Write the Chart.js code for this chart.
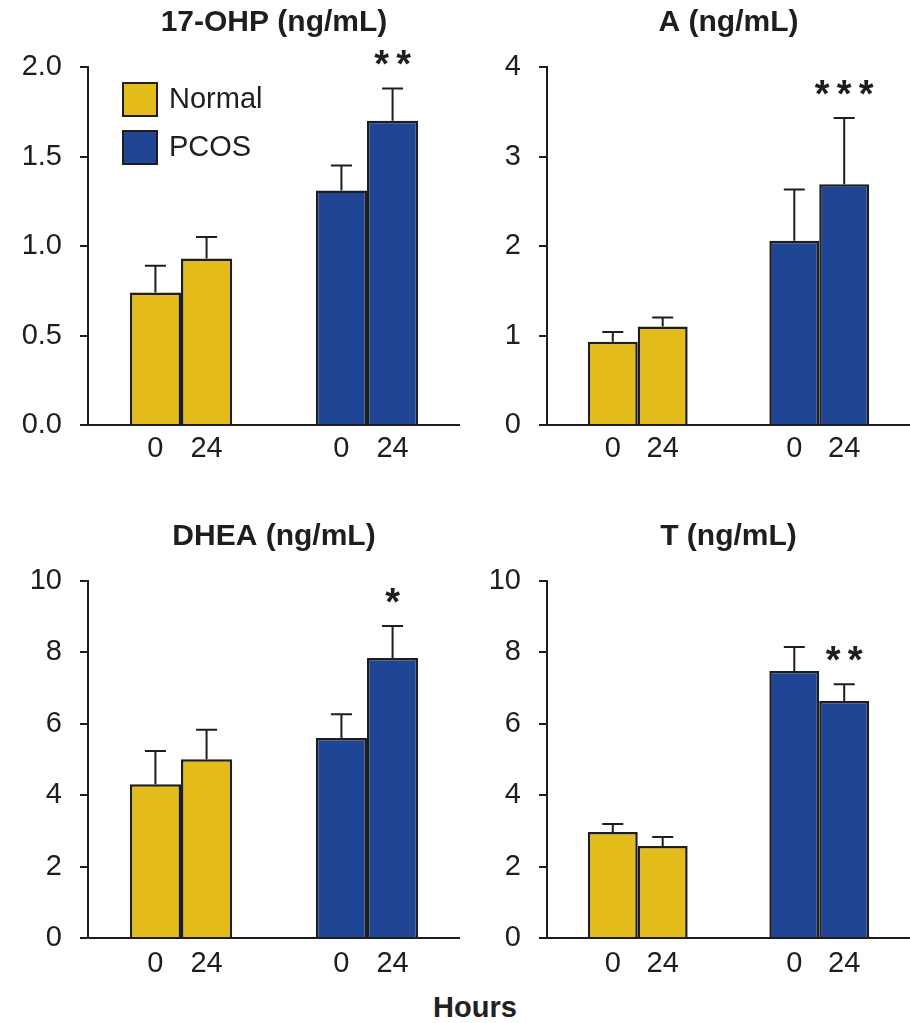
<!DOCTYPE html>
<html>
<head>
<meta charset="utf-8">
<script src="https://cdn.jsdelivr.net/npm/chart.js@4.4.1/dist/chart.umd.min.js"></script>
<style>
  body { margin: 0; background: #fff; }
  #wrap { position: relative; width: 910px; height: 1023px; overflow: hidden; }
  canvas { position: absolute; }
  #hours { position: absolute; left: 375px; width: 200px; top: 990px; text-align: center;
           font: bold 29px "Liberation Sans", Arial, sans-serif; line-height: 34px; color: #222; }
</style>
</head>
<body>
<div id="wrap">
  <canvas id="ohp" width="460" height="470" style="left:0;top:0"></canvas>
  <canvas id="andro" width="450" height="470" style="left:460px;top:0"></canvas>
  <canvas id="dhea" width="460" height="470" style="left:0;top:510px"></canvas>
  <canvas id="testo" width="450" height="470" style="left:460px;top:510px"></canvas>
  <div id="hours">Hours</div>
</div>
<script>
const hours = ['0', '24'];
const groups = ['Normal', 'PCOS'];

// 17-OHP
const ohpNormal = [0.74, 0.93];
const ohpNormalErr = [0.15, 0.12];
const ohpPcos = [1.31, 1.70];
const ohpPcosErr = [0.14, 0.18];
const ohpStars = ['', '**'];
const ohpTicks = [0, 0.5, 1.0, 1.5, 2.0];
const ohpTickLabels = ['0.0', '0.5', '1.0', '1.5', '2.0'];

// A
const aNormal = [0.93, 1.10];
const aNormalErr = [0.11, 0.10];
const aPcos = [2.06, 2.69];
const aPcosErr = [0.57, 0.74];
const aStars = ['', '***'];
const aTicks = [0, 1, 2, 3, 4];
const aTickLabels = ['0', '1', '2', '3', '4'];

// DHEA
const dheaNormal = [4.31, 5.01];
const dheaNormalErr = [0.93, 0.82];
const dheaPcos = [5.60, 7.84];
const dheaPcosErr = [0.67, 0.90];
const dheaStars = ['', '*'];
const tenTicks = [0, 2, 4, 6, 8, 10];
const tenTickLabels = ['0', '2', '4', '6', '8', '10'];

// T
const tNormal = [2.97, 2.58];
const tNormalErr = [0.22, 0.25];
const tPcos = [7.48, 6.64];
const tPcosErr = [0.67, 0.47];
const tStars = ['', '**'];

const YELLOW = '#E3BB1A';
const BLUE = '#1F4594';
const INK = '#1e1e1e';
const FONT = '"Liberation Sans", Arial, sans-serif';

// error bars, hour labels under each bar, stars, legend
const extras = {
  id: 'extras',
  afterDatasetsDraw(chart) {
    const ctx = chart.ctx;
    const y = chart.scales.y;
    const area = chart.chartArea;
    const cfg = chart.options.plugins.extras;
    ctx.save();
    chart.data.datasets.forEach((ds, di) => {
      const meta = chart.getDatasetMeta(di);
      meta.data.forEach((bar, i) => {
        const top = y.getPixelForValue(ds.data[i] + ds.err[i]);
        ctx.strokeStyle = INK;
        ctx.lineWidth = 2;
        ctx.beginPath();
        ctx.moveTo(bar.x, bar.y);
        ctx.lineTo(bar.x, top);
        ctx.moveTo(bar.x - 10.5, top);
        ctx.lineTo(bar.x + 10.5, top);
        ctx.stroke();

        ctx.fillStyle = INK;
        ctx.font = '29px ' + FONT;
        ctx.textAlign = 'center';
        ctx.textBaseline = 'middle';
        ctx.fillText(hours[di], bar.x, area.bottom + cfg.labelGap);

        const s = ds.stars[i];
        if (s) {
          ctx.font = 'bold 38px ' + FONT;
          ctx.textBaseline = 'alphabetic';
          for (let k = 0; k < s.length; k++) {
            const sx = bar.x + (k - (s.length - 1) / 2) * 22;
            ctx.fillText('*', sx, top - 34 + 23);
          }
        }
      });
    });
    if (cfg.legend) {
      groups.forEach((g, gi) => {
        const ly = area.top + 16 + gi * 48;
        ctx.fillStyle = gi === 0 ? YELLOW : BLUE;
        ctx.fillRect(123, ly, 34, 33);
        ctx.strokeStyle = INK;
        ctx.lineWidth = 2;
        ctx.strokeRect(123, ly, 34, 33);
        ctx.fillStyle = INK;
        ctx.font = '29px ' + FONT;
        ctx.textAlign = 'left';
        ctx.textBaseline = 'middle';
        ctx.fillText(g, 169, ly + 17);
      });
    }
    ctx.restore();
  }
};

function makePanel(id, title, normal, normalErr, pcos, pcosErr, stars, ticks, tickLabels, opt) {
  const datasets = hours.map((h, hi) => ({
    label: h + ' h',
    data: [normal[hi], pcos[hi]],
    err: [normalErr[hi], pcosErr[hi]],
    stars: ['', stars[hi]],
    backgroundColor: [YELLOW, BLUE],
    borderColor: INK,
    borderWidth: 2.5,
    barPercentage: 1,
    categoryPercentage: 0.55
  }));
  new Chart(document.getElementById(id), {
    type: 'bar',
    data: { labels: groups, datasets: datasets },
    plugins: [extras],
    options: {
      responsive: false,
      animation: false,
      layout: { padding: 0 },
      plugins: {
        legend: { display: false },
        tooltip: { enabled: false },
        title: {
          display: true,
          text: title,
          fullSize: false,
          color: INK,
          font: { family: FONT, size: 30, weight: 'bold', lineHeight: 1.2 },
          padding: { top: opt.titleTop, bottom: opt.titleBottom }
        },
        extras: { legend: !!opt.legend, labelGap: opt.labelGap }
      },
      scales: {
        x: {
          grid: { display: false },
          border: { display: true, color: INK, width: 2 },
          ticks: { display: false },
          afterFit: s => { s.height = opt.xHeight; }
        },
        y: {
          min: ticks[0],
          max: ticks[ticks.length - 1],
          afterBuildTicks: s => { s.ticks = ticks.map(v => ({ value: v })); },
          afterFit: s => { s.width = opt.yWidth; },
          grid: { drawOnChartArea: false, drawTicks: true, tickLength: 8, color: INK, lineWidth: 2 },
          border: { display: true, color: INK, width: 2 },
          ticks: {
            padding: 18,
            color: INK,
            font: { family: FONT, size: 29 },
            callback: (v, i) => tickLabels[i]
          }
        }
      }
    }
  });
}

makePanel('ohp', '17-OHP (ng/mL)', ohpNormal, ohpNormalErr, ohpPcos, ohpPcosErr, ohpStars, ohpTicks, ohpTickLabels,
  { legend: true, yWidth: 88, xHeight: 45, titleTop: 5, titleBottom: 26, labelGap: 24 });
makePanel('andro', 'A (ng/mL)', aNormal, aNormalErr, aPcos, aPcosErr, aStars, aTicks, aTickLabels,
  { yWidth: 87, xHeight: 45, titleTop: 5, titleBottom: 26, labelGap: 24 });
makePanel('dhea', 'DHEA (ng/mL)', dheaNormal, dheaNormalErr, dheaPcos, dheaPcosErr, dheaStars, tenTicks, tenTickLabels,
  { yWidth: 88, xHeight: 42, titleTop: 9, titleBottom: 26, labelGap: 26 });
makePanel('testo', 'T (ng/mL)', tNormal, tNormalErr, tPcos, tPcosErr, tStars, tenTicks, tenTickLabels,
  { yWidth: 87, xHeight: 42, titleTop: 9, titleBottom: 26, labelGap: 26 });
</script>
</body>
</html>
